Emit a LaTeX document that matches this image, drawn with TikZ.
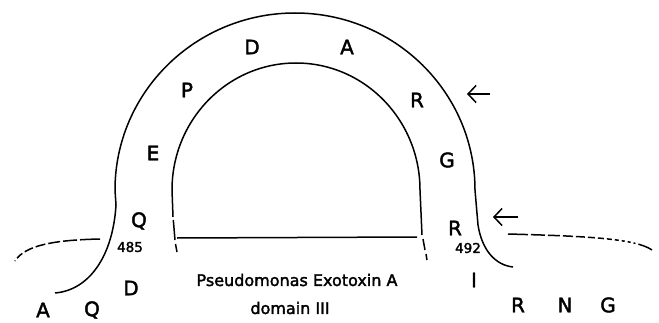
\documentclass[tikz,border=0pt]{standalone}
\usepackage{fontspec}
\setmainfont{DejaVu Sans}[FakeBold=2]
\usetikzlibrary{arrows.meta}
\begin{document}
\begin{tikzpicture}[x=1pt,y=1pt,line width=1.5pt,
  aa/.style={font=\fontsize{20}{22}\selectfont,inner sep=0pt},
  num/.style={font=\fontsize{13.5}{15}\selectfont,inner sep=0pt},
  lbl/.style={font=\fontsize{16}{18}\selectfont,inner sep=0pt},
  arr/.style={-{Straight Barb[length=8pt,width=17pt,line width=1.5pt]},line width=1.5pt},
  fade/.style={dash pattern=on 20pt off 3pt on 14pt off 3pt on 12pt off 3pt on 10pt off 3pt on 9pt off 3pt on 7pt off 3pt on 6pt off 3pt on 5pt off 3pt on 4pt off 3pt on 3pt off 3pt on 3pt off 3pt on 2pt off 3pt}]
\useasboundingbox (0,0) rectangle (659,322);
% outer arch
\draw (55,29) .. controls (90,32) and (113,67) .. (116,117) -- (115,132)
  arc[start angle=180,end angle=0,x radius=180pt,y radius=177pt]
  -- (478,97) .. controls (482,72) and (495,57) .. (513,55);
% inner arch
\draw (173,105) -- (172,132)
  arc[start angle=180,end angle=0,x radius=124pt,y radius=127pt]
  -- (422,87);
\draw (173.3,102) -- (175,82);
\draw (175.5,78) -- (177,70);
\draw (423,83) -- (425,72);
\draw (426,68) -- (427,62);
% domain III base line
\coordinate (hl) at (177,84);
\coordinate (hr) at (417,85);
\draw (hl) -- (hr);
% flanking dashed chains
\coordinate (l1) at (100,83);
\coordinate (l2) at (15,61);
\draw[fade] (l1) .. controls (55,82) and (25,77) .. (l2);
\coordinate (r1) at (508,88);
\coordinate (r2) at (652,72);
\draw[fade] (r1) .. controls (580,86) and (635,84) .. (r2);
% arrows
\coordinate (a1s) at (490,228);
\coordinate (a1e) at (467,228);
\draw[arr] (a1s) -- (a1e);
\coordinate (a2s) at (518,105);
\coordinate (a2e) at (493,105);
\draw[arr] (a2s) -- (a2e);
% residues
\node[aa] (D1) at (252,275) {D};
\node[aa] (A1) at (347,275) {A};
\node[aa] (P1) at (187,232) {P};
\node[aa] (R1) at (417,222) {R};
\node[aa] (E1) at (153,169) {E};
\node[aa] (G1) at (447,162) {G};
\node[aa] (Q1) at (139,101) {Q};
\node[num] (n485) at (130,75) {485};
\node[aa] (D2) at (131,34) {D};
\node[aa] (A2) at (43,12) {A};
\node[aa] (Q2) at (92,12) {Q};
\node[aa] (R2) at (455,94) {R};
\node[num] (n492) at (468,74) {492};
\node[aa] (I1) at (474,42) {I};
\node[aa] (R3) at (518,17) {R};
\node[aa] (N1) at (565,17) {N};
\node[aa] (G2) at (608,17) {G};
% labels
\node[lbl] (t1) at (297,42) {Pseudomonas Exotoxin A};
\node[lbl] (t2) at (290,14) {domain III};
\end{tikzpicture}
\end{document}
